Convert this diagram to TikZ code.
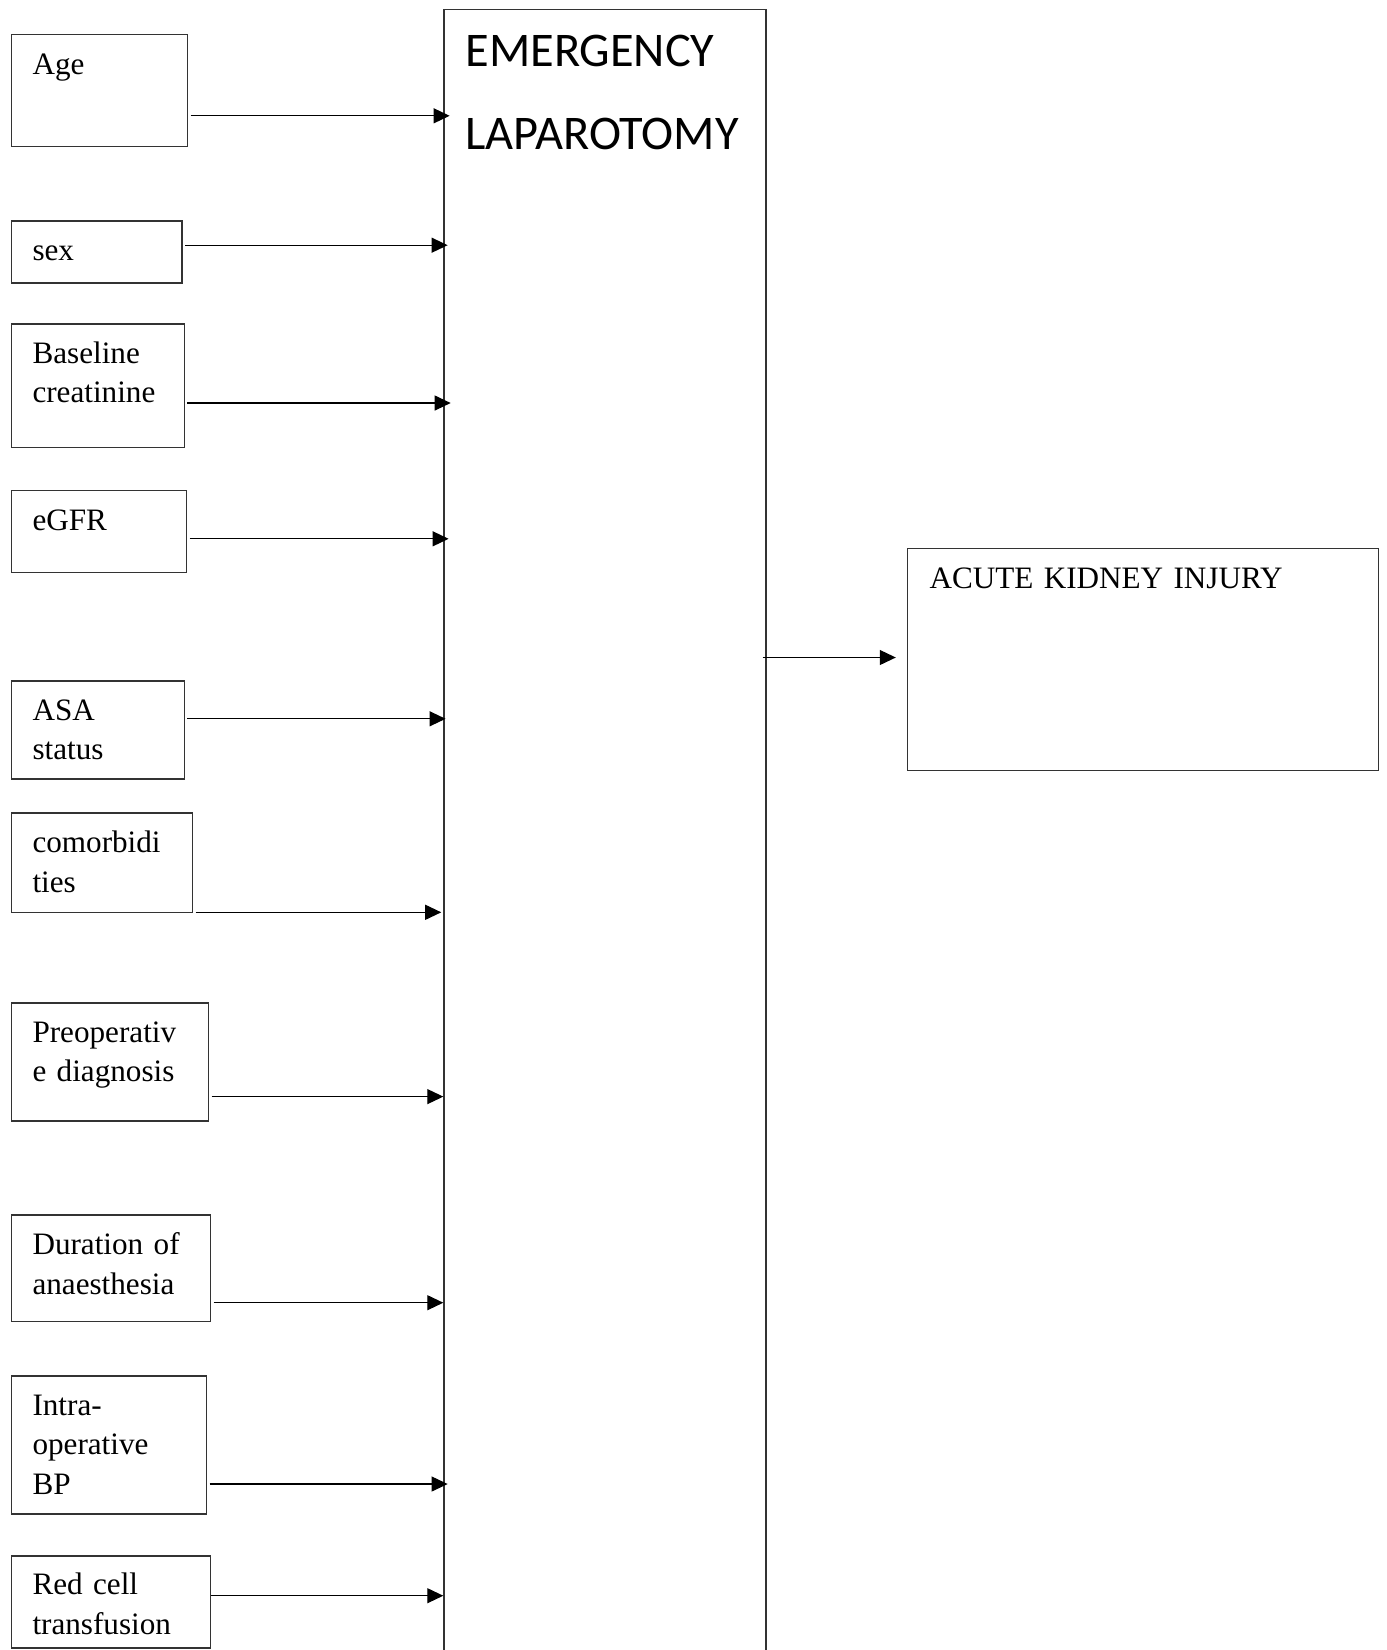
\documentclass[tikz,border=0pt]{standalone}
\usepackage{fontspec}
\setmainfont{Liberation Serif}
\newfontfamily\calibri{Carlito}
\usetikzlibrary{fit,arrows.meta}
\tikzstyle{factor}=[draw=black!80,line width=0.55pt,inner sep=0pt]
\tikzstyle{ftext}=[anchor=base west,inner sep=0pt,align=left,text width=90pt,font=\fontsize{12.25}{15.5}\selectfont]
\tikzstyle{link}=[-{Triangle[length=6.3pt,width=5.9pt]},line width=0.45pt,shorten <=1pt]

\begin{document}
\begin{tikzpicture}[x=0.393pt,y=-0.393pt]
\clip (0,0) rectangle (1387,1650);
% central block
\node [factor,fit={(444,9.5) (766,1720)}] (lap) {};
\node [ftext,text width=160pt,font=\calibri\fontsize{19}{32.5}\selectfont] (lapT) at (465,66.7) {EMERGENCY\\LAPAROTOMY};

% risk factors
\node [factor,fit={(11.6,34.7) (187.3,146.3)}] (age) {};
\node [ftext] (ageT) at (32,74.2) {Age};
\node [factor,fit={(11.6,221) (182,283)}] (sex) {};
\node [ftext] (sexT) at (32,260.5) {sex};
\node [factor,fit={(11.6,324) (184.2,447.5)}] (creat) {};
\node [ftext] (creatT) at (32,363.3) {Baseline\\creatinine};
\node [factor,fit={(11.6,490.4) (186.3,572.5)}] (egfr) {};
\node [ftext] (egfrT) at (32,530) {eGFR};
\node [factor,fit={(11.6,681) (184.2,778.8)}] (asa) {};
\node [ftext] (asaT) at (32,720.5) {ASA\\status};
\node [factor,fit={(11.6,813) (192.3,912.3)}] (comorb) {};
\node [ftext] (comorbT) at (32,852.8) {comorbidi\\ties};
\node [factor,fit={(11.6,1003) (208.4,1120.8)}] (preop) {};
\node [ftext] (preopT) at (32,1042.5) {Preoperativ\\e diagnosis};
\node [factor,fit={(11.6,1215) (210.5,1321.7)}] (anaes) {};
\node [ftext] (anaesT) at (32,1254.8) {Duration of\\anaesthesia};
\node [factor,fit={(11.6,1376) (206.3,1514)}] (bp) {};
\node [ftext] (bpT) at (32,1415.3) {Intra-\\operative\\BP};
\node [factor,fit={(11.6,1556) (210.5,1648)}] (rbc) {};
\node [ftext] (rbcT) at (32,1594.8) {Red cell\\transfusion};

% outcome
\node [factor,fit={(907.2,548.3) (1378.6,770.4)}] (aki) {};
\node [ftext,text width=200pt] (akiT) at (929,588.5) {ACUTE KIDNEY INJURY};

\draw [link,shorten >=-2.5pt] (age.east |- 0,115.8) -- (lap.west |- 0,115.8);
\draw [link,shorten >=-1.7pt] (sex.east |- 0,245.2) -- (lap.west |- 0,245.2);
\draw [link,shorten >=-2.9pt] (creat.east |- 0,403) -- (lap.west |- 0,403);
\draw [link,shorten >=-2.1pt] (egfr.east |- 0,538.8) -- (lap.west |- 0,538.8);
\draw [link,shorten >=-0.9pt] (asa.east |- 0,718.8) -- (lap.west |- 0,718.8);
\draw [link,shorten >=0.8pt] (comorb.east |- 0,912.3) -- (lap.west |- 0,912.3);
\draw [link] (preop.east |- 0,1096.6) -- (lap.west |- 0,1096.6);
\draw [link] (anaes.east |- 0,1302.7) -- (lap.west |- 0,1302.7);
\draw [link,shorten >=-1.7pt] (bp.east |- 0,1484) -- (lap.west |- 0,1484);
\draw [link,shorten <=0pt] (rbc.east |- 0,1595.7) -- (lap.west |- 0,1595.7);
\draw [link,shorten <=-1.6pt,shorten >=4.2pt] (lap.east |- 0,657.5) -- (aki.west |- 0,657.5);
\end{tikzpicture}
\end{document}
